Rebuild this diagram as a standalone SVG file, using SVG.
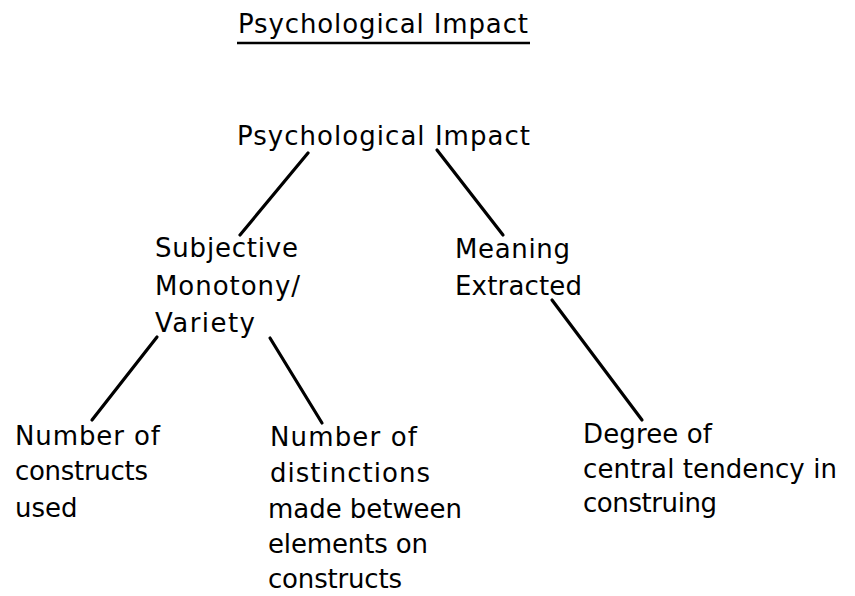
<svg xmlns="http://www.w3.org/2000/svg" width="855" height="596" viewBox="0 0 855 596">
<style>
text{font-family:"DejaVu Sans","Liberation Sans",sans-serif;font-size:26px;fill:#000}
.c line{stroke:#000;stroke-width:3.2;stroke-linecap:round}
</style>
<rect width="855" height="596" fill="#fff"/>
<g id="title">
<text x="238" y="33" textLength="290">Psychological Impact</text>
<line x1="237" y1="43" x2="530" y2="43" stroke="#000" stroke-width="2.5"/>
</g>
<g id="root"><text x="237" y="145" textLength="293">Psychological Impact</text></g>
<g id="subjective">
<text x="155" y="257" textLength="143">Subjective</text>
<text x="155" y="295" textLength="145">Monotony/</text>
<text x="155" y="332" textLength="100">Variety</text>
</g>
<g id="meaning">
<text x="455" y="258" textLength="115">Meaning</text>
<text x="455" y="295" textLength="127">Extracted</text>
</g>
<g id="constructs">
<text x="15" y="445" textLength="145">Number of</text>
<text x="15" y="480" textLength="133">constructs</text>
<text x="15" y="517">used</text>
</g>
<g id="distinctions">
<text x="270" y="446" textLength="147">Number of</text>
<text x="270" y="482" textLength="160">distinctions</text>
<text x="268" y="518" textLength="194">made between</text>
<text x="268" y="553" textLength="160">elements on</text>
<text x="268" y="588" textLength="134">constructs</text>
</g>
<g id="degree">
<text x="583" y="443" textLength="129">Degree of</text>
<text x="583" y="478" textLength="254">central tendency in</text>
<text x="583" y="512" textLength="134">construing</text>
</g>
<g id="connectors" class="c">
<line x1="308" y1="153" x2="240" y2="235"/>
<line x1="437" y1="150" x2="503" y2="235"/>
<line x1="157" y1="337" x2="92" y2="420"/>
<line x1="270" y1="338" x2="322" y2="423"/>
<line x1="552" y1="300" x2="642" y2="420"/>
</g>
</svg>
